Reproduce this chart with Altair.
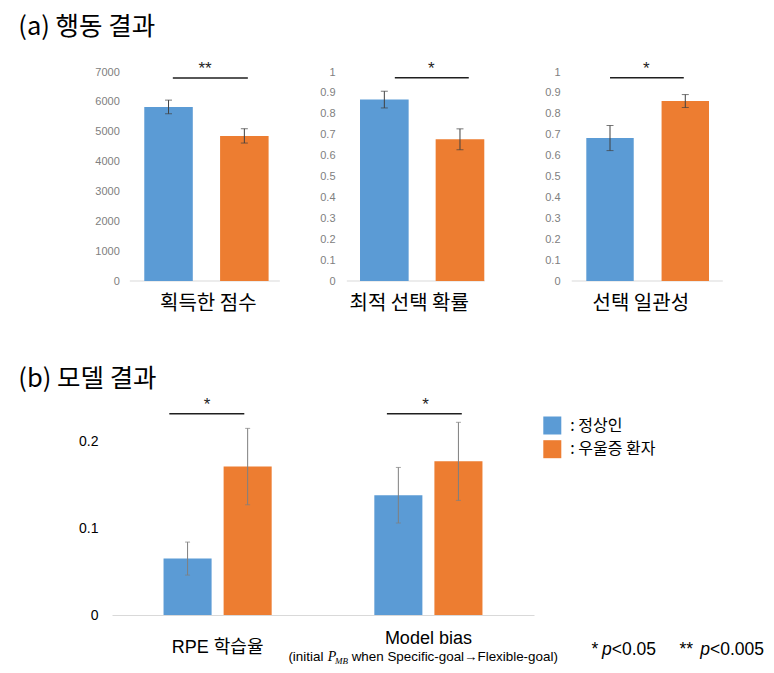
import altair as alt
import pandas as pd

# ---------------- data ----------------
GROUPS = ["정상인", "우울증 환자"]
COLORS = ["#5B9BD5", "#ED7D31"]

TOP_LABELS = ["획득한 점수", "최적 선택 확률", "선택 일관성"]
SCORE_MEAN = [5830, 4860]
SCORE_ERR = [228, 240]
OPTIMAL_MEAN = [0.868, 0.678]
OPTIMAL_ERR = [0.040, 0.050]
CONSIST_MEAN = [0.684, 0.861]
CONSIST_ERR = [0.060, 0.031]
SIG_TOP = ["**", "*", "*"]

PARAMS = ["RPE 학습율", "Model bias"]
NORMAL_MODEL_MEAN = [0.065, 0.138]
NORMAL_MODEL_ERR = [0.019, 0.032]
PATIENT_MODEL_MEAN = [0.171, 0.177]
PATIENT_MODEL_ERR = [0.044, 0.045]
SIG_BOTTOM = ["*", "*"]

KR = "Noto Sans CJK KR"
LAT = "Liberation Sans"
MIX = "'Liberation Sans', 'Noto Sans CJK KR'"
SERIF = "Liberation Serif"


def top_panel(label, means, errs, ymax, ticks, fmt, sig_y, star_y, star, width,
              pad_inner, pad_outer, align, axis_offset, label_pad, min_extent,
              title_x, base_off, sig_off, star_dx, title=None):
    df = pd.DataFrame({"group": GROUPS, "mean": means, "err": errs})
    df["lo"] = df["mean"] - df["err"]
    df["hi"] = df["mean"] + df["err"]
    sig_df = pd.DataFrame({"a": [GROUPS[0]], "b": [GROUPS[1]], "y": [sig_y],
                           "ys": [star_y], "star": [star], "zero": [0]})

    xscale = alt.Scale(domain=GROUPS, paddingInner=pad_inner,
                       paddingOuter=pad_outer, align=align)
    xaxis = alt.Axis(labels=False, ticks=False, domain=False, title=label,
                     titleX=title_x, titleFont=KR, titleFontSize=20,
                     titleFontWeight="normal", titleColor="#000000",
                     titlePadding=12)
    yscale = alt.Scale(domain=[0, ymax], nice=False, zero=True)
    yaxis = alt.Axis(values=ticks, format=fmt, grid=False, domain=False,
                     ticks=False, labelColor="#808080", labelFont=LAT,
                     labelFontSize=11, labelPadding=label_pad,
                     offset=axis_offset, minExtent=min_extent, title=None)

    def X(f, **kw):
        return alt.X(f, type="nominal", scale=xscale, axis=xaxis, **kw)

    def Y(f):
        return alt.Y(f, type="quantitative", scale=yscale, axis=yaxis)

    base = alt.Chart(df)
    bars = base.mark_bar().encode(
        x=X("group"), y=Y("mean"),
        color=alt.Color("group:N", scale=alt.Scale(domain=GROUPS, range=COLORS),
                        legend=None))
    err = base.mark_rule(color="#404040", strokeWidth=1).encode(
        x=X("group"), y=Y("lo"), y2="hi")
    cap_lo = base.mark_tick(color="#404040", thickness=1, size=7).encode(
        x=X("group"), y=Y("lo"))
    cap_hi = base.mark_tick(color="#404040", thickness=1, size=7).encode(
        x=X("group"), y=Y("hi"))
    sig = alt.Chart(sig_df)
    baseline = sig.mark_rule(color="#d9d9d9", strokeWidth=1,
                             xOffset=base_off[0], x2Offset=base_off[1]).encode(
        x=X("a"), x2="b", y=Y("zero"))
    line = sig.mark_rule(color="#1f1f1f", strokeWidth=1.5,
                         xOffset=sig_off[0], x2Offset=sig_off[1]).encode(
        x=X("a"), x2="b", y=Y("y"))
    stars = sig.mark_text(font=LAT, fontSize=17, color="#1f1f1f",
                          baseline="alphabetic", dx=star_dx).encode(
        x=X("b", bandPosition=0), y=Y("ys"), text="star:N")
    props = dict(width=width, height=209)
    if title is not None:
        props["title"] = title
    return alt.layer(baseline, bars, err, cap_lo, cap_hi, line, stars).properties(**props)


title_a = alt.TitleParams("(a) 행동 결과", anchor="start", frame="group", dx=-93.7,
                          font=KR, fontSize=25.5, fontWeight="normal",
                          color="#000000", offset=19.5)

p1 = top_panel(TOP_LABELS[0], SCORE_MEAN, SCORE_ERR, 7000,
               list(range(0, 7001, 1000)), "d", 6800, 6946, SIG_TOP[0], 168.3,
               0.36, 0.29, 0.734, -18.3, 11, 0, 95.8,
               (-38.7, 35.5), (4.3, 3.5), -15, title=title_a)
p2 = top_panel(TOP_LABELS[1], OPTIMAL_MEAN, OPTIMAL_ERR, 1,
               [i / 10 for i in range(11)], "~g", 0.973, 0.992, SIG_TOP[1], 150.3,
               0.357, 0.172, 0.5, 0, 12, 56, 61.7,
               (-37.5, 24.8), (10.5, 8.8), -4.3)
p3 = top_panel(TOP_LABELS[2], CONSIST_MEAN, CONSIST_ERR, 1,
               [i / 10 for i in range(11)], "~g", 0.973, 0.992, SIG_TOP[2], 151.3,
               0.37, 0.19, 0.5, 0, 12, 64, 68.3,
               (-38.3, 37.5), (0, -1.5), -15.3)

top_row = alt.hconcat(p1, p2, p3, spacing=10)

# ---------------- bottom panel ----------------
rows = []
for i, prm in enumerate(PARAMS):
    rows.append({"param": prm, "group": GROUPS[0],
                 "mean": NORMAL_MODEL_MEAN[i], "err": NORMAL_MODEL_ERR[i]})
    rows.append({"param": prm, "group": GROUPS[1],
                 "mean": PATIENT_MODEL_MEAN[i], "err": PATIENT_MODEL_ERR[i]})
bdf = pd.DataFrame(rows)
bdf["lo"] = bdf["mean"] - bdf["err"]
bdf["hi"] = bdf["mean"] + bdf["err"]

bx_scale = alt.Scale(domain=PARAMS, paddingInner=0.43, paddingOuter=0.216)
bx_axis = alt.Axis(domain=True, domainColor="#d9d9d9", domainWidth=1,
                   ticks=False, labelFont=MIX, labelFontSize=18,
                   labelColor="#000000",
                   labelPadding={"condition": {"test": "datum.label == 'Model bias'",
                                               "value": 23},
                                 "value": 32},
                   labelBaseline="middle", labelAngle=0, title=None)
by_scale = alt.Scale(domain=[0, 0.25], nice=False, zero=True)
by_axis = alt.Axis(values=[0, 0.1, 0.2], format="~g", grid=False, domain=False,
                   ticks=False, labelFont=LAT, labelFontSize=14,
                   labelColor="#000000", labelPadding=14, title=None)
xoff = alt.XOffset("group:N", scale=alt.Scale(domain=GROUPS, paddingInner=0.2,
                                              paddingOuter=0.1))


def BX(f="param"):
    return alt.X(f, type="nominal", scale=bx_scale, axis=bx_axis)


def BY(f):
    return alt.Y(f, type="quantitative", scale=by_scale, axis=by_axis)


bbase = alt.Chart(bdf)
bbars = bbase.mark_bar().encode(
    x=BX(), xOffset=xoff, y=BY("mean"),
    color=alt.Color("group:N", scale=alt.Scale(domain=GROUPS, range=COLORS),
                    legend=alt.Legend(orient="none", legendX=431.3, legendY=18.5,
                                      title=None, symbolType="square",
                                      symbolSize=324, symbolStrokeWidth=0,
                                      labelFont=KR, labelFontSize=16,
                                      labelColor="#000000",
                                      labelExpr="': ' + datum.label",
                                      labelOffset=9, rowPadding=5.7, padding=0)))
berr = bbase.mark_rule(color="#7f7f7f", strokeWidth=1).encode(
    x=BX(), xOffset=xoff, y=BY("lo"), y2="hi")
bcap_lo = bbase.mark_tick(color="#7f7f7f", thickness=1, size=5).encode(
    x=BX(), xOffset=xoff, y=BY("lo"))
bcap_hi = bbase.mark_tick(color="#7f7f7f", thickness=1, size=5).encode(
    x=BX(), xOffset=xoff, y=BY("hi"))

bsig_df = pd.DataFrame({"param": PARAMS, "y": [0.2318, 0.2318],
                        "ys": [0.236, 0.236], "star": SIG_BOTTOM})
bsig = alt.Chart(bsig_df)
SIG_LAYOUT = {PARAMS[0]: (-48.3, 26.7, -10.6), PARAMS[1]: (-41.5, 33.4, -2.8)}
bsig_layers = []
for prm, (o1, o2, sdx) in SIG_LAYOUT.items():
    flt = alt.datum.param == prm
    bsig_layers.append(
        bsig.transform_filter(flt).mark_rule(
            color="#1f1f1f", strokeWidth=1.5, xOffset=o1, x2Offset=o2).encode(
            x=BX(), x2="param", y=BY("y")))
    bsig_layers.append(
        bsig.transform_filter(flt).mark_text(
            font=LAT, fontSize=17, color="#1f1f1f", baseline="alphabetic",
            dx=sdx).encode(x=BX(), y=BY("ys"), text="star:N"))

sub_df = pd.DataFrame({"param": [PARAMS[1]]})
sub = alt.Chart(sub_df)
SUB_Y = 262.8
sub1 = sub.mark_text(text="(initial", font=LAT, fontSize=13.4, color="#000000",
                     align="left", baseline="alphabetic", dx=-140).encode(
    x=BX(), y=alt.value(SUB_Y))
sub2 = sub.mark_text(text="P", font=SERIF, fontSize=14, fontStyle="italic",
                     color="#000000", align="left", baseline="alphabetic",
                     dx=-100.7).encode(x=BX(), y=alt.value(SUB_Y))
sub3 = sub.mark_text(text="MB", font=SERIF, fontSize=9, fontStyle="italic",
                     color="#000000", align="left", baseline="alphabetic",
                     dx=-93.5, dy=3).encode(x=BX(), y=alt.value(SUB_Y))
sub4 = sub.mark_text(text="when Specific-goal\u2192Flexible-goal)", font=LAT,
                     fontSize=13.4, color="#000000", align="left",
                     baseline="alphabetic", dx=-76.7).encode(
    x=BX(), y=alt.value(SUB_Y))

FOOT_Y = 256.5
foot_parts = [("*", 479.5, "normal"), ("p", 490, "italic"), ("<0.05", 499.7, "normal"),
              ("**", 567.5, "normal"), ("p", 588.3, "italic"), ("<0.005", 598, "normal")]
foot_layers = []
for txt, px, style in foot_parts:
    foot_layers.append(
        sub.mark_text(text=txt, font=LAT, fontSize=17.5, fontStyle=style,
                      color="#000000", align="left", baseline="alphabetic").encode(
            x=alt.value(px), y=alt.value(FOOT_Y)))

title_b = alt.TitleParams("(b) 모델 결과", anchor="start", frame="group", dx=-93.7,
                          font=KR, fontSize=25.5, fontWeight="normal",
                          color="#000000", offset=4)

bottom = alt.layer(bbars, berr, bcap_lo, bcap_hi, *bsig_layers,
                   sub1, sub2, sub3, sub4, *foot_layers).properties(
    width=422, height=217, title=title_b)

chart = alt.vconcat(top_row, bottom, spacing=53).resolve_scale(
    color="independent").properties(
    padding={"left": 10, "top": 6, "right": 0, "bottom": 0},
    background="white").configure_view(stroke=None)

chart.save("out.html", embed_options={"renderer": "svg", "actions": False})
